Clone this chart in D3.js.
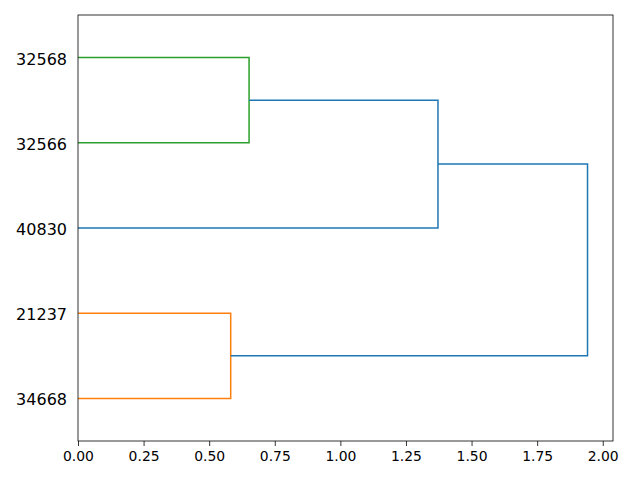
<!DOCTYPE html>
<html>
<head>
<meta charset="utf-8">
<title>Dendrogram</title>
<script src="https://cdn.jsdelivr.net/npm/d3@7"></script>
<style>
	body { margin: 0; background: #fff; }
	svg { display: block; font-family: "DejaVu Sans", sans-serif; }
</style>
</head>
<body>
<div id="chart"></div>
<script>
	// leaves in dendrogram order, bottom to top
	var leafLabels = ['34668', '21237', '40830', '32566', '32568'];

	// linkage rows: node ids 0..4 are leaves, 5.. are merges in order
	var linkA = [0, 3, 2, 5];
	var linkB = [1, 4, 6, 7];
	var linkDist = [0.582, 0.652, 1.372, 1.942];
	var linkColor = ['#ff7f0e', '#2ca02c', '#1f77b4', '#1f77b4'];

	var xTicks = [0, 0.25, 0.5, 0.75, 1.0, 1.25, 1.5, 1.75, 2.0];

	var width = 640,
		height = 480,
		margin = {top: 15, right: 27, bottom: 39, left: 78},
		w = width - margin.left - margin.right,
		h = height - margin.top - margin.bottom;

	var svg = d3.select('#chart').append('svg')
		.attr('width', width)
		.attr('height', height);

	var g = svg.append('g')
		.attr('transform', 'translate(' + margin.left + ',' + margin.top + ')');

	var x = d3.scaleLinear()
		.domain([0, d3.max(linkDist) * 1.05])
		.range([0, w]);

	var y = d3.scaleLinear()
		.domain([0, leafLabels.length * 10])
		.range([h, 0]);

	// position and height of every node
	var nodePos = leafLabels.map(function(d, i) { return 5 + 10 * i; });
	var nodeDist = leafLabels.map(function() { return 0; });
	linkA.forEach(function(a, i) {
		var b = linkB[i];
		nodePos.push((nodePos[a] + nodePos[b]) / 2);
		nodeDist.push(linkDist[i]);
	});

	var line = d3.line()
		.x(function(d) { return x(d[0]); })
		.y(function(d) { return y(d[1]); });

	g.selectAll('path.link')
		.data(linkDist)
		.enter()
		.append('path')
		.attr('class', 'link')
		.attr('fill', 'none')
		.attr('stroke', function(d, i) { return linkColor[i]; })
		.attr('stroke-width', 1.5)
		.attr('d', function(d, i) {
			var a = linkA[i], b = linkB[i];
			return line([
				[nodeDist[a], nodePos[a]],
				[d, nodePos[a]],
				[d, nodePos[b]],
				[nodeDist[b], nodePos[b]]
			]);
		});

	// x axis
	var xAxis = g.append('g')
		.attr('transform', 'translate(0,' + h + ')')
		.call(d3.axisBottom(x)
			.tickValues(xTicks)
			.tickSize(5)
			.tickPadding(5)
			.tickFormat(d3.format('.2f')));
	xAxis.select('.domain').remove();
	xAxis.selectAll('line').attr('stroke', '#000').attr('stroke-width', 0.8);
	xAxis.selectAll('text').attr('font-size', '13.9px').attr('fill', '#000')
		.attr('font-family', '"DejaVu Sans", sans-serif');

	// leaf labels on the left
	var yAxis = g.append('g')
		.call(d3.axisLeft(y)
			.tickValues(leafLabels.map(function(d, i) { return 5 + 10 * i; }))
			.tickSize(0)
			.tickPadding(11)
			.tickFormat(function(d, i) { return leafLabels[i]; }));
	yAxis.select('.domain').remove();
	yAxis.selectAll('text').attr('font-size', '16px').attr('fill', '#000')
		.attr('dy', '0.4em')
		.attr('font-family', '"DejaVu Sans", sans-serif');

	// frame
	g.append('rect')
		.attr('width', w)
		.attr('height', h)
		.attr('fill', 'none')
		.attr('stroke', '#000')
		.attr('stroke-width', 0.8);
</script>
</body>
</html>
